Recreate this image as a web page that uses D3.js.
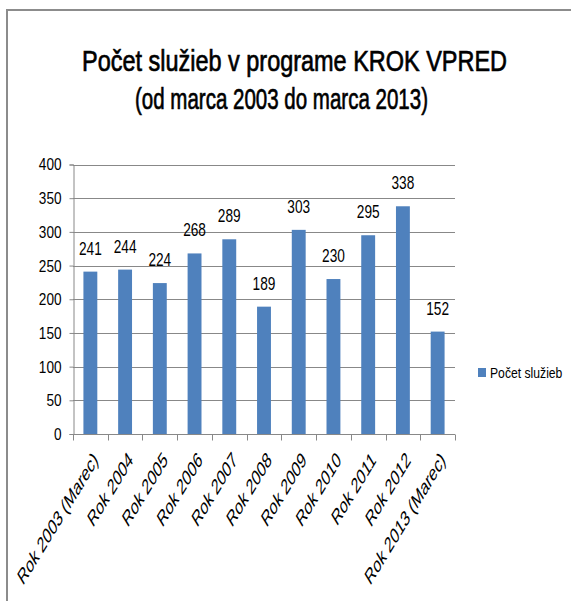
<!DOCTYPE html>
<html><head><meta charset="utf-8">
<script src="https://cdn.jsdelivr.net/npm/d3@7"></script>
<style>body{margin:0;background:#fff}svg{display:block}text{font-family:"Liberation Sans",Arial,sans-serif}</style>
</head><body>
<script>
const categories = ["Rok 2003 (Marec)","Rok 2004","Rok 2005","Rok 2006","Rok 2007","Rok 2008","Rok 2009","Rok 2010","Rok 2011","Rok 2012","Rok 2013 (Marec)"];
const values = [241,244,224,268,289,189,303,230,295,338,152];
const yTicks = [0,50,100,150,200,250,300,350,400];
const seriesName = "Počet služieb";
const titleLines = ["Počet služieb v programe KROK VPRED","(od marca 2003 do marca 2013)"];

const W = 571, H = 601;
const svg = d3.select("body").append("svg").attr("width", W).attr("height", H);

// frame
svg.append("line").attr("x1",6).attr("x2",W).attr("y1",10).attr("y2",10).attr("stroke","#8c8c8c").attr("stroke-width",2);
svg.append("line").attr("x1",7).attr("x2",7).attr("y1",9).attr("y2",H).attr("stroke","#8c8c8c").attr("stroke-width",2);

// title
const tl = [{x:82,w:425,y:71},{x:135,w:293,y:109}];
titleLines.forEach((t,i)=>{
  svg.append("text").attr("x",tl[i].x).attr("y",tl[i].y).attr("font-size",30)
    .attr("textLength",tl[i].w).attr("lengthAdjust","spacingAndGlyphs")
    .attr("fill","#000").attr("stroke","#000").attr("stroke-width",0.7).text(t);
});

const x0 = 73, x1 = 455, yTop = 164.5, yBot = 434;
const x = d3.scaleBand().domain(categories).range([x0,x1]).paddingInner(0.6).paddingOuter(0.3);
const y = d3.scaleLinear().domain([0,400]).range([yBot,yTop]);

// gridlines
svg.append("g").selectAll("line").data(yTicks.filter(d=>d>0)).join("line")
  .attr("x1",x0).attr("x2",x1).attr("y1",d=>Math.round(y(d))+0.5).attr("y2",d=>Math.round(y(d))+0.5)
  .attr("stroke","#888").attr("stroke-width",1);

// y axis
const ya = svg.append("g").attr("transform",`translate(${x0+0.5},0)`)
  .call(d3.axisLeft(y).tickValues(yTicks).tickSize(4).tickPadding(8));
ya.select(".domain").attr("stroke","#888");
ya.selectAll(".tick line").attr("stroke","#888");
ya.selectAll(".tick text").attr("font-size",17).attr("fill","#000")
  .attr("font-family","Liberation Sans, Arial, sans-serif")
  .each(function(){const t=d3.select(this);const xx=+t.attr("x");t.attr("x",null).attr("transform",`translate(${xx},0) scale(0.8,1)`);});

// bars
svg.append("g").selectAll("rect").data(values).join("rect")
  .attr("x",(d,i)=>x(categories[i])).attr("width",x.bandwidth())
  .attr("y",d=>y(d)).attr("height",d=>yBot-y(d)).attr("fill","#4f81bd");

// data labels
svg.append("g").selectAll("text").data(values).join("text")
  .attr("transform",(d,i)=>`translate(${x(categories[i])+x.bandwidth()/2},${y(d)-17}) scale(0.76,1)`)
  .attr("text-anchor","middle").attr("font-size",18).attr("fill","#000").text(d=>d);

// x axis
const step = x.step();
const xa = svg.append("g").attr("transform",`translate(0,${yBot+0.5})`);
xa.append("line").attr("x1",x0).attr("x2",x1).attr("stroke","#888");
xa.selectAll("line.tk").data(d3.range(categories.length+1)).join("line").attr("class","tk")
  .attr("x1",i=>Math.round(x0+i*step)+0.5).attr("x2",i=>Math.round(x0+i*step)+0.5)
  .attr("y1",0).attr("y2",6).attr("stroke","#888");
xa.selectAll("text").data(categories).join("text")
  .attr("transform",d=>`translate(${x(d)+x.bandwidth()/2+2},16) scale(0.61,1) rotate(-45)`)
  .attr("text-anchor","end").attr("dy","0.7em").attr("font-size",22).attr("fill","#000").text(d=>d);

// legend
svg.append("rect").attr("x",478).attr("y",368).attr("width",8).attr("height",9).attr("fill","#4f81bd");
svg.append("text").attr("transform","translate(490,378) scale(0.87,1)").attr("font-size",14).attr("fill","#000").text(seriesName);
</script>
</body></html>
